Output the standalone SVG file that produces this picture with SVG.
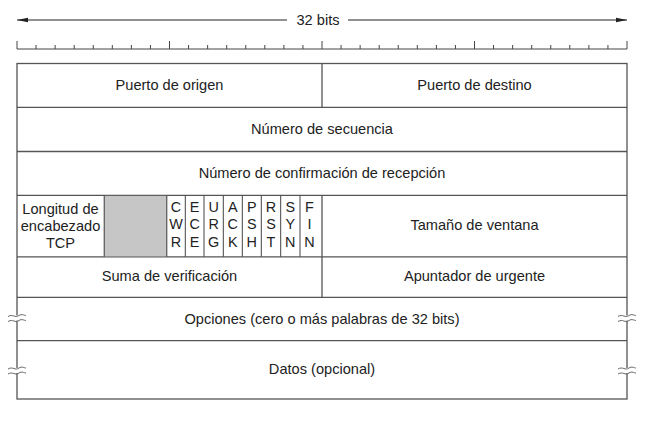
<svg xmlns="http://www.w3.org/2000/svg" width="652" height="421" viewBox="0 0 652 421">
<style>
text{font-family:"Liberation Sans",Arial,sans-serif;font-size:14.6px;fill:#222;text-anchor:middle}
.f{font-size:14.4px}
.ln{stroke:#555;stroke-width:1.3;fill:none}
.th{stroke:#444;stroke-width:1;fill:none}
.br{stroke:#666;stroke-width:1;fill:none}
</style>
<defs>
<marker id="ah" markerWidth="11" markerHeight="6" refX="11" refY="3" orient="auto" markerUnits="userSpaceOnUse">
<path d="M0,0.8 L11,3 L0,5.2 Z" fill="#222"/>
</marker>
<g id="brk">
<rect x="-4" y="0" width="8" height="5" fill="#fff"/>
<path class="br" d="M-9,1 C-4,-2 -2,3 2,0 C5,-2 7,0 9,0"/>
<path class="br" d="M-9,6 C-4,3 -2,8 2,5 C5,3 7,5 9,5"/>
</g>
</defs>
<g id="scale">
<line x1="287" y1="20" x2="17" y2="20" stroke="#222" stroke-width="1" marker-end="url(#ah)"/>
<line x1="348" y1="20" x2="627" y2="20" stroke="#222" stroke-width="1" marker-end="url(#ah)"/>
<text x="318" y="25">32 bits</text>
<line class="th" x1="17" y1="49" x2="627" y2="49"/>
<path class="th" d="M17,41V49M169.5,41V49M322,41V49M474.5,41V49M627,41V49M36.06,45V49M55.13,45V49M74.19,45V49M93.25,45V49M112.31,45V49M131.38,45V49M150.44,45V49M188.56,45V49M207.63,45V49M226.69,45V49M245.75,45V49M264.81,45V49M283.88,45V49M302.94,45V49M341.06,45V49M360.13,45V49M379.19,45V49M398.25,45V49M417.31,45V49M436.38,45V49M455.44,45V49M493.56,45V49M512.63,45V49M531.69,45V49M550.75,45V49M569.81,45V49M588.88,45V49M607.94,45V49"/>
</g>
<g id="connectors">
<rect class="ln" x="17" y="63.5" width="610" height="335.5"/>
<path class="ln" d="M17,107.3H627M17,151.5H627M17,195.3H627M17,256.8H627M17,297.3H627M17,340.7H627"/>
<path class="ln" d="M322,63.5V107.3M322,195.3V256.8M322,256.8V297.3"/>
<path class="ln" d="M104.3,195.3V256.8M166.7,195.3V256.8"/>
<path class="th" d="M185.3,195.3V256.8M204,195.3V256.8M223.3,195.3V256.8M242.3,195.3V256.8M261.3,195.3V256.8M280.7,195.3V256.8M300,195.3V256.8"/>
<use href="#brk" x="17" y="315.5"/>
<use href="#brk" x="627" y="315.5"/>
<use href="#brk" x="17" y="368"/>
<use href="#brk" x="627" y="368"/>
</g>
<g id="n-origen"><text x="169.5" y="90">Puerto de origen</text></g>
<g id="n-destino"><text x="474.5" y="90">Puerto de destino</text></g>
<g id="n-secuencia"><text x="322" y="134">Número de secuencia</text></g>
<g id="n-confirmacion"><text x="322" y="178">Número de confirmación de recepción</text></g>
<g id="n-longitud">
<text x="60.5" y="214">Longitud de</text>
<text x="60.5" y="231">encabezado</text>
<text x="60.5" y="247.5">TCP</text>
</g>
<g id="n-reservado"><rect x="104.9" y="195.9" width="61.2" height="60.3" fill="#c6c6c6"/></g>
<g id="n-flags">
<text class="f" x="176" y="212">C</text><text class="f" x="176" y="229">W</text><text class="f" x="176" y="246.5">R</text>
<text class="f" x="194.6" y="212">E</text><text class="f" x="194.6" y="229">C</text><text class="f" x="194.6" y="246.5">E</text>
<text class="f" x="213.6" y="212">U</text><text class="f" x="213.6" y="229">R</text><text class="f" x="213.6" y="246.5">G</text>
<text class="f" x="232.8" y="212">A</text><text class="f" x="232.8" y="229">C</text><text class="f" x="232.8" y="246.5">K</text>
<text class="f" x="251.8" y="212">P</text><text class="f" x="251.8" y="229">S</text><text class="f" x="251.8" y="246.5">H</text>
<text class="f" x="271" y="212">R</text><text class="f" x="271" y="229">S</text><text class="f" x="271" y="246.5">T</text>
<text class="f" x="290.3" y="212">S</text><text class="f" x="290.3" y="229">Y</text><text class="f" x="290.3" y="246.5">N</text>
<text class="f" x="309.5" y="212">F</text><text class="f" x="309.5" y="229">I</text><text class="f" x="309.5" y="246.5">N</text>
</g>
<g id="n-ventana"><text x="474.5" y="230">Tamaño de ventana</text></g>
<g id="n-suma"><text x="169.5" y="281">Suma de verificación</text></g>
<g id="n-urgente"><text x="474.5" y="281">Apuntador de urgente</text></g>
<g id="n-opciones"><text x="322" y="324">Opciones (cero o más palabras de 32 bits)</text></g>
<g id="n-datos"><text x="322" y="374">Datos (opcional)</text></g>
</svg>
